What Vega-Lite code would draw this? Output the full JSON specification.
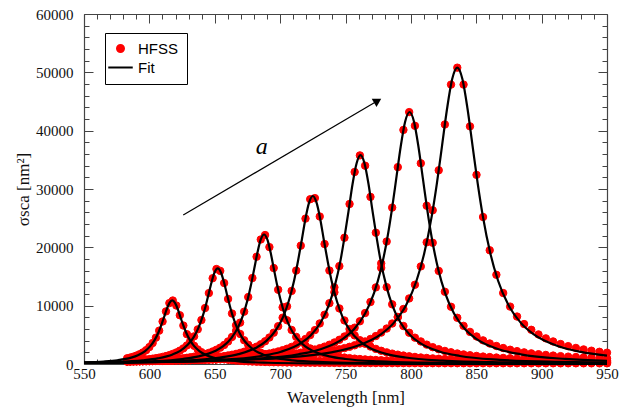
{
"$schema": "https://vega.github.io/schema/vega-lite/v6.json",
"width": 523, "height": 350,
"autosize": {"type": "none"},
"padding": {"left": 84, "top": 14, "right": 26, "bottom": 43},
"background": "white",
"config": {
  "view": {"stroke": null},
  "axis": {"grid": false, "domainColor": "#444", "domainWidth": 1.2, "tickColor": "#444", "tickWidth": 1, "labelFont": "Liberation Serif", "labelFontSize": 15, "labelColor": "#111", "titleFont": "Liberation Serif", "titleFontSize": 17, "titleFontWeight": "normal", "titleColor": "#111", "labelOverlap": false, "labelBound": false, "labelFlush": false},
  "legend": {"orient": "none", "legendX": 21, "legendY": 19, "strokeColor": "#000", "fillColor": "#fff", "padding": 8, "labelFont": "Liberation Sans", "labelFontSize": 15, "labelColor": "#000", "symbolSize": 49, "symbolStrokeWidth": 2, "symbolOpacity": 1, "labelOffset": 10, "rowPadding": 3}
},
"datasets": {
"fit": [
{"c":1,"x":550,"y":258},{"c":1,"x":565,"y":419},{"c":1,"x":575.5,"y":641},{"c":1,"x":586,"y":1090},{"c":1,"x":591.25,"y":1503},{"c":1,"x":596.5,"y":2180},{"c":1,"x":600.7,"y":3062},{"c":1,"x":603.85,"y":4052},{"c":1,"x":607,"y":5450},{"c":1,"x":609.1,"y":6647},{"c":1,"x":611.2,"y":8015},{"c":1,"x":613.3,"y":9397},{"c":1,"x":615.4,"y":10480},{"c":1,"x":617.5,"y":10900},{"c":1,"x":619.6,"y":10480},{"c":1,"x":621.7,"y":9397},{"c":1,"x":623.8,"y":8015},{"c":1,"x":625.9,"y":6647},{"c":1,"x":628,"y":5450},{"c":1,"x":631.15,"y":4052},{"c":1,"x":634.3,"y":3062},{"c":1,"x":638.5,"y":2180},{"c":1,"x":643.75,"y":1503},{"c":1,"x":649,"y":1090},{"c":1,"x":659.5,"y":641},{"c":1,"x":670,"y":419},{"c":1,"x":691,"y":218},{"c":1,"x":722.5,"y":108},{"c":1,"x":800,"y":36},{"c":1,"x":950,"y":11},
{"c":2,"x":550,"y":205},{"c":2,"x":571.8,"y":328},{"c":2,"x":594.8,"y":631},{"c":2,"x":606.3,"y":964},{"c":2,"x":617.8,"y":1640},{"c":2,"x":623.55,"y":2262},{"c":2,"x":629.3,"y":3280},{"c":2,"x":633.9,"y":4607},{"c":2,"x":637.35,"y":6096},{"c":2,"x":640.8,"y":8200},{"c":2,"x":643.1,"y":10000},{"c":2,"x":645.4,"y":12059},{"c":2,"x":647.7,"y":14138},{"c":2,"x":650,"y":15769},{"c":2,"x":652.3,"y":16400},{"c":2,"x":654.6,"y":15769},{"c":2,"x":656.9,"y":14138},{"c":2,"x":659.2,"y":12059},{"c":2,"x":661.5,"y":10000},{"c":2,"x":663.8,"y":8200},{"c":2,"x":667.25,"y":6096},{"c":2,"x":670.7,"y":4607},{"c":2,"x":675.3,"y":3280},{"c":2,"x":681.05,"y":2262},{"c":2,"x":686.8,"y":1640},{"c":2,"x":698.3,"y":964},{"c":2,"x":709.8,"y":631},{"c":2,"x":732.8,"y":328},{"c":2,"x":767.3,"y":162},{"c":2,"x":813.3,"y":84},{"c":2,"x":950,"y":24},
{"c":3,"x":550,"y":181},{"c":3,"x":562.7,"y":220},{"c":3,"x":600.2,"y":444},{"c":3,"x":625.2,"y":855},{"c":3,"x":637.7,"y":1305},{"c":3,"x":650.2,"y":2220},{"c":3,"x":656.45,"y":3061},{"c":3,"x":662.7,"y":4440},{"c":3,"x":667.7,"y":6236},{"c":3,"x":671.45,"y":8252},{"c":3,"x":675.2,"y":11100},{"c":3,"x":677.7,"y":13537},{"c":3,"x":680.2,"y":16324},{"c":3,"x":682.7,"y":19138},{"c":3,"x":685.2,"y":21346},{"c":3,"x":687.7,"y":22200},{"c":3,"x":690.2,"y":21346},{"c":3,"x":692.7,"y":19138},{"c":3,"x":695.2,"y":16324},{"c":3,"x":697.7,"y":13537},{"c":3,"x":700.2,"y":11100},{"c":3,"x":703.95,"y":8252},{"c":3,"x":707.7,"y":6236},{"c":3,"x":712.7,"y":4440},{"c":3,"x":718.95,"y":3061},{"c":3,"x":725.2,"y":2220},{"c":3,"x":737.7,"y":1305},{"c":3,"x":750.2,"y":855},{"c":3,"x":775.2,"y":444},{"c":3,"x":812.7,"y":220},{"c":3,"x":862.7,"y":113},{"c":3,"x":950,"y":50},
{"c":4,"x":550,"y":188},{"c":4,"x":583,"y":285},{"c":4,"x":625.6,"y":576},{"c":4,"x":654,"y":1109},{"c":4,"x":668.2,"y":1694},{"c":4,"x":682.4,"y":2880},{"c":4,"x":689.5,"y":3972},{"c":4,"x":696.6,"y":5760},{"c":4,"x":702.3,"y":8090},{"c":4,"x":706.5,"y":10705},{"c":4,"x":710.8,"y":14400},{"c":4,"x":713.6,"y":17562},{"c":4,"x":716.5,"y":21177},{"c":4,"x":719.3,"y":24828},{"c":4,"x":722.2,"y":27692},{"c":4,"x":725,"y":28800},{"c":4,"x":727.8,"y":27692},{"c":4,"x":730.7,"y":24828},{"c":4,"x":733.5,"y":21177},{"c":4,"x":736.4,"y":17562},{"c":4,"x":739.2,"y":14400},{"c":4,"x":743.5,"y":10705},{"c":4,"x":747.7,"y":8090},{"c":4,"x":753.4,"y":5760},{"c":4,"x":760.5,"y":3972},{"c":4,"x":767.6,"y":2880},{"c":4,"x":781.8,"y":1694},{"c":4,"x":796,"y":1109},{"c":4,"x":824.4,"y":576},{"c":4,"x":867,"y":285},{"c":4,"x":950,"y":114},
{"c":5,"x":550,"y":184},{"c":5,"x":609.5,"y":354},{"c":5,"x":655.1,"y":716},{"c":5,"x":685.5,"y":1378},{"c":5,"x":700.7,"y":2105},{"c":5,"x":715.9,"y":3580},{"c":5,"x":723.5,"y":4937},{"c":5,"x":731.1,"y":7160},{"c":5,"x":737.2,"y":10056},{"c":5,"x":741.7,"y":13307},{"c":5,"x":746.3,"y":17900},{"c":5,"x":749.3,"y":21831},{"c":5,"x":752.4,"y":26324},{"c":5,"x":755.4,"y":30862},{"c":5,"x":758.5,"y":34423},{"c":5,"x":761.5,"y":35800},{"c":5,"x":764.5,"y":34423},{"c":5,"x":767.6,"y":30862},{"c":5,"x":770.6,"y":26324},{"c":5,"x":773.7,"y":21831},{"c":5,"x":776.7,"y":17900},{"c":5,"x":781.3,"y":13307},{"c":5,"x":785.8,"y":10056},{"c":5,"x":791.9,"y":7160},{"c":5,"x":799.5,"y":4937},{"c":5,"x":807.1,"y":3580},{"c":5,"x":822.3,"y":2105},{"c":5,"x":837.5,"y":1378},{"c":5,"x":867.9,"y":716},{"c":5,"x":913.5,"y":354},{"c":5,"x":950,"y":231},
{"c":6,"x":550,"y":200},{"c":6,"x":629,"y":428},{"c":6,"x":680,"y":864},{"c":6,"x":714,"y":1662},{"c":6,"x":731,"y":2541},{"c":6,"x":748,"y":4320},{"c":6,"x":756.5,"y":5959},{"c":6,"x":765,"y":8640},{"c":6,"x":771.8,"y":12135},{"c":6,"x":776.9,"y":16059},{"c":6,"x":782,"y":21600},{"c":6,"x":785.4,"y":26341},{"c":6,"x":788.8,"y":31765},{"c":6,"x":792.2,"y":37241},{"c":6,"x":795.6,"y":41538},{"c":6,"x":799,"y":43200},{"c":6,"x":802.4,"y":41538},{"c":6,"x":805.8,"y":37241},{"c":6,"x":809.2,"y":31765},{"c":6,"x":812.6,"y":26341},{"c":6,"x":816,"y":21600},{"c":6,"x":821.1,"y":16059},{"c":6,"x":826.2,"y":12135},{"c":6,"x":833,"y":8640},{"c":6,"x":841.5,"y":5959},{"c":6,"x":850,"y":4320},{"c":6,"x":867,"y":2541},{"c":6,"x":884,"y":1662},{"c":6,"x":918,"y":864},{"c":6,"x":950,"y":541},
{"c":7,"x":550,"y":236},{"c":7,"x":600,"y":346},{"c":7,"x":640.5,"y":503},{"c":7,"x":699,"y":1016},{"c":7,"x":738,"y":1956},{"c":7,"x":757.5,"y":2988},{"c":7,"x":777,"y":5080},{"c":7,"x":786.75,"y":7005},{"c":7,"x":796.5,"y":10160},{"c":7,"x":804.3,"y":14270},{"c":7,"x":810.15,"y":18882},{"c":7,"x":816,"y":25400},{"c":7,"x":819.9,"y":30978},{"c":7,"x":823.8,"y":37353},{"c":7,"x":827.7,"y":43795},{"c":7,"x":831.6,"y":48843},{"c":7,"x":835.5,"y":50800},{"c":7,"x":839.4,"y":48843},{"c":7,"x":843.3,"y":43795},{"c":7,"x":847.2,"y":37353},{"c":7,"x":851.1,"y":30978},{"c":7,"x":855,"y":25400},{"c":7,"x":860.85,"y":18882},{"c":7,"x":866.7,"y":14270},{"c":7,"x":874.5,"y":10160},{"c":7,"x":884.25,"y":7005},{"c":7,"x":894,"y":5080},{"c":7,"x":913.5,"y":2988},{"c":7,"x":930,"y":2075},{"c":7,"x":950,"y":1432}
],
"hfss": [
{"x":583,"y":979},{"x":585.4,"y":1108},{"x":587.8,"y":1259},{"x":590.2,"y":1446},{"x":592.6,"y":1680},{"x":595,"y":1977},{"x":597.5,"y":2377},{"x":600,"y":2902},{"x":602.5,"y":3597},{"x":605,"y":4518},
{"x":607.5,"y":5721},{"x":610.1,"y":7286},{"x":612.7,"y":9016},{"x":615.3,"y":10441},{"x":617.9,"y":10884},{"x":620.6,"y":10027},{"x":623.3,"y":8355},{"x":626,"y":6593},{"x":628.7,"y":5113},{"x":631.4,"y":3981},
{"x":634.2,"y":3119},{"x":637,"y":2492},{"x":639.8,"y":2033},{"x":642.6,"y":1692},{"x":645.5,"y":1430},{"x":648.4,"y":1233},{"x":651.3,"y":1068},{"x":654.2,"y":934},{"x":657.2,"y":822},{"x":660.2,"y":730},
{"x":663.2,"y":656},{"x":666.3,"y":591},{"x":669.4,"y":538},{"x":672.5,"y":492},{"x":675.6,"y":454},{"x":678.8,"y":420},{"x":682,"y":390},{"x":685.2,"y":365},{"x":688.5,"y":342},{"x":691.8,"y":322},
{"x":695.1,"y":305},{"x":698.5,"y":289},{"x":701.9,"y":275},{"x":705.3,"y":263},{"x":708.8,"y":251},{"x":712.3,"y":241},{"x":715.8,"y":232},{"x":719.4,"y":224},{"x":723,"y":216},{"x":726.6,"y":209},
{"x":730.3,"y":203},{"x":734,"y":197},{"x":737.7,"y":192},{"x":741.5,"y":187},{"x":745.3,"y":182},{"x":749.2,"y":178},{"x":753.1,"y":174},{"x":757,"y":171},{"x":761,"y":167},{"x":765,"y":164},
{"x":769.1,"y":161},{"x":773.2,"y":159},{"x":777.3,"y":156},{"x":781.5,"y":154},{"x":785.7,"y":151},{"x":790,"y":149},{"x":794.3,"y":147},{"x":798.7,"y":146},{"x":803.1,"y":144},{"x":807.6,"y":142},
{"x":812.1,"y":141},{"x":816.7,"y":139},{"x":821.3,"y":138},{"x":826,"y":137},{"x":830.7,"y":135},{"x":835.5,"y":134},{"x":840.3,"y":133},{"x":845.2,"y":132},{"x":850.2,"y":131},{"x":855.2,"y":130},
{"x":860.3,"y":129},{"x":865.4,"y":129},{"x":870.6,"y":128},{"x":875.9,"y":127},{"x":881.2,"y":126},{"x":886.6,"y":126},{"x":892.1,"y":125},{"x":897.6,"y":124},{"x":903.2,"y":124},{"x":908.8,"y":123},
{"x":914.5,"y":123},{"x":920.3,"y":122},{"x":926.2,"y":122},{"x":932.1,"y":121},{"x":938.1,"y":121},{"x":944.2,"y":120},{"x":950,"y":120},
{"x":583,"y":522},{"x":585.4,"y":553},{"x":587.8,"y":587},{"x":590.2,"y":626},{"x":592.6,"y":669},{"x":595,"y":717},{"x":597.5,"y":774},{"x":600,"y":839},{"x":602.5,"y":912},{"x":605,"y":998},
{"x":607.5,"y":1096},{"x":610.1,"y":1216},{"x":612.7,"y":1358},{"x":615.3,"y":1527},{"x":617.9,"y":1731},{"x":620.6,"y":1977},{"x":623.3,"y":2287},{"x":626,"y":2680},{"x":628.7,"y":3185},{"x":631.4,"y":3842},
{"x":634.2,"y":4739},{"x":637,"y":5937},{"x":639.8,"y":7529},{"x":642.6,"y":9590},{"x":645.5,"y":12154},{"x":648.4,"y":14706},{"x":651.3,"y":16277},{"x":654.2,"y":15960},{"x":657.2,"y":13880},{"x":660.2,"y":11149},
{"x":663.2,"y":8654},{"x":666.3,"y":6634},{"x":669.4,"y":5147},{"x":672.5,"y":4070},{"x":675.6,"y":3288},{"x":678.8,"y":2696},{"x":682,"y":2260},{"x":685.2,"y":1935},{"x":688.5,"y":1667},{"x":691.8,"y":1445},
{"x":695.1,"y":1268},{"x":698.5,"y":1121},{"x":701.9,"y":1001},{"x":705.3,"y":901},{"x":708.8,"y":816},{"x":712.3,"y":745},{"x":715.8,"y":685},{"x":719.4,"y":632},{"x":723,"y":587},{"x":726.6,"y":548},
{"x":730.3,"y":513},{"x":734,"y":483},{"x":737.7,"y":456},{"x":741.5,"y":432},{"x":745.3,"y":411},{"x":749.2,"y":392},{"x":753.1,"y":375},{"x":757,"y":360},{"x":761,"y":346},{"x":765,"y":333},
{"x":769.1,"y":321},{"x":773.2,"y":311},{"x":777.3,"y":302},{"x":781.5,"y":293},{"x":785.7,"y":285},{"x":790,"y":278},{"x":794.3,"y":271},{"x":798.7,"y":265},{"x":803.1,"y":259},{"x":807.6,"y":254},
{"x":812.1,"y":249},{"x":816.7,"y":244},{"x":821.3,"y":240},{"x":826,"y":236},{"x":830.7,"y":232},{"x":835.5,"y":229},{"x":840.3,"y":225},{"x":845.2,"y":222},{"x":850.2,"y":219},{"x":855.2,"y":217},
{"x":860.3,"y":214},{"x":865.4,"y":212},{"x":870.6,"y":209},{"x":875.9,"y":207},{"x":881.2,"y":205},{"x":886.6,"y":203},{"x":892.1,"y":202},{"x":897.6,"y":200},{"x":903.2,"y":198},{"x":908.8,"y":197},
{"x":914.5,"y":196},{"x":920.3,"y":194},{"x":926.2,"y":193},{"x":932.1,"y":192},{"x":938.1,"y":191},{"x":944.2,"y":189},{"x":950,"y":188},
{"x":583,"y":423},{"x":585.4,"y":438},{"x":587.8,"y":453},{"x":590.2,"y":470},{"x":592.6,"y":488},{"x":595,"y":507},{"x":597.5,"y":529},{"x":600,"y":553},{"x":602.5,"y":579},{"x":605,"y":607},
{"x":607.5,"y":638},{"x":610.1,"y":672},{"x":612.7,"y":711},{"x":615.3,"y":754},{"x":617.9,"y":801},{"x":620.6,"y":856},{"x":623.3,"y":917},{"x":626,"y":986},{"x":628.7,"y":1065},{"x":631.4,"y":1154},
{"x":634.2,"y":1260},{"x":637,"y":1383},{"x":639.8,"y":1527},{"x":642.6,"y":1695},{"x":645.5,"y":1902},{"x":648.4,"y":2151},{"x":651.3,"y":2447},{"x":654.2,"y":2803},{"x":657.2,"y":3267},{"x":660.2,"y":3863},
{"x":663.2,"y":4632},{"x":666.3,"y":5684},{"x":669.4,"y":7089},{"x":672.5,"y":8974},{"x":675.6,"y":11472},{"x":678.8,"y":14736},{"x":682,"y":18385},{"x":685.2,"y":21346},{"x":688.5,"y":22108},{"x":691.8,"y":20042},
{"x":695.1,"y":16449},{"x":698.5,"y":12729},{"x":701.9,"y":9724},{"x":705.3,"y":7493},{"x":708.8,"y":5837},{"x":712.3,"y":4652},{"x":715.8,"y":3792},{"x":719.4,"y":3146},{"x":723,"y":2671},{"x":726.6,"y":2300},
{"x":730.3,"y":1982},{"x":734,"y":1730},{"x":737.7,"y":1528},{"x":741.5,"y":1359},{"x":745.3,"y":1220},{"x":749.2,"y":1103},{"x":753.1,"y":1004},{"x":757,"y":922},{"x":761,"y":849},{"x":765,"y":788},
{"x":769.1,"y":733},{"x":773.2,"y":687},{"x":777.3,"y":646},{"x":781.5,"y":609},{"x":785.7,"y":577},{"x":790,"y":549},{"x":794.3,"y":523},{"x":798.7,"y":500},{"x":803.1,"y":480},{"x":807.6,"y":462},
{"x":812.1,"y":445},{"x":816.7,"y":429},{"x":821.3,"y":415},{"x":826,"y":402},{"x":830.7,"y":391},{"x":835.5,"y":380},{"x":840.3,"y":370},{"x":845.2,"y":361},{"x":850.2,"y":353},{"x":855.2,"y":345},
{"x":860.3,"y":338},{"x":865.4,"y":331},{"x":870.6,"y":325},{"x":875.9,"y":320},{"x":881.2,"y":314},{"x":886.6,"y":309},{"x":892.1,"y":305},{"x":897.6,"y":301},{"x":903.2,"y":297},{"x":908.8,"y":293},
{"x":914.5,"y":289},{"x":920.3,"y":286},{"x":926.2,"y":283},{"x":932.1,"y":280},{"x":938.1,"y":277},{"x":944.2,"y":275},{"x":950,"y":272},
{"x":583,"y":429},{"x":585.4,"y":439},{"x":587.8,"y":449},{"x":590.2,"y":460},{"x":592.6,"y":472},{"x":595,"y":484},{"x":597.5,"y":497},{"x":600,"y":511},{"x":602.5,"y":526},{"x":605,"y":542},
{"x":607.5,"y":559},{"x":610.1,"y":577},{"x":612.7,"y":597},{"x":615.3,"y":619},{"x":617.9,"y":642},{"x":620.6,"y":667},{"x":623.3,"y":695},{"x":626,"y":725},{"x":628.7,"y":757},{"x":631.4,"y":792},
{"x":634.2,"y":831},{"x":637,"y":875},{"x":639.8,"y":922},{"x":642.6,"y":975},{"x":645.5,"y":1034},{"x":648.4,"y":1101},{"x":651.3,"y":1175},{"x":654.2,"y":1258},{"x":657.2,"y":1354},{"x":660.2,"y":1464},
{"x":663.2,"y":1588},{"x":666.3,"y":1736},{"x":669.4,"y":1908},{"x":672.5,"y":2107},{"x":675.6,"y":2342},{"x":678.8,"y":2630},{"x":682,"y":2975},{"x":685.2,"y":3378},{"x":688.5,"y":3892},{"x":691.8,"y":4540},
{"x":695.1,"y":5370},{"x":698.5,"y":6480},{"x":701.9,"y":7941},{"x":705.3,"y":9879},{"x":708.8,"y":12534},{"x":712.3,"y":16015},{"x":715.8,"y":20291},{"x":719.4,"y":24926},{"x":723,"y":28245},{"x":726.6,"y":28439},
{"x":730.3,"y":25286},{"x":734,"y":20562},{"x":737.7,"y":16028},{"x":741.5,"y":12297},{"x":745.3,"y":9528},{"x":749.2,"y":7469},{"x":753.1,"y":5984},{"x":757,"y":4900},{"x":761,"y":4084},{"x":765,"y":3477},
{"x":769.1,"y":2993},{"x":773.2,"y":2588},{"x":777.3,"y":2265},{"x":781.5,"y":1999},{"x":785.7,"y":1782},{"x":790,"y":1600},{"x":794.3,"y":1449},{"x":798.7,"y":1319},{"x":803.1,"y":1210},{"x":807.6,"y":1115},
{"x":812.1,"y":1034},{"x":816.7,"y":962},{"x":821.3,"y":901},{"x":826,"y":846},{"x":830.7,"y":799},{"x":835.5,"y":756},{"x":840.3,"y":718},{"x":845.2,"y":684},{"x":850.2,"y":654},{"x":855.2,"y":627},
{"x":860.3,"y":602},{"x":865.4,"y":580},{"x":870.6,"y":559},{"x":875.9,"y":541},{"x":881.2,"y":524},{"x":886.6,"y":509},{"x":892.1,"y":494},{"x":897.6,"y":482},{"x":903.2,"y":470},{"x":908.8,"y":459},
{"x":914.5,"y":449},{"x":920.3,"y":439},{"x":926.2,"y":431},{"x":932.1,"y":423},{"x":938.1,"y":415},{"x":944.2,"y":408},{"x":950,"y":402},
{"x":583,"y":437},{"x":585.4,"y":444},{"x":587.8,"y":451},{"x":590.2,"y":459},{"x":592.6,"y":467},{"x":595,"y":475},{"x":597.5,"y":484},{"x":600,"y":493},{"x":602.5,"y":503},{"x":605,"y":514},
{"x":607.5,"y":524},{"x":610.1,"y":536},{"x":612.7,"y":549},{"x":615.3,"y":562},{"x":617.9,"y":576},{"x":620.6,"y":591},{"x":623.3,"y":607},{"x":626,"y":624},{"x":628.7,"y":642},{"x":631.4,"y":661},
{"x":634.2,"y":682},{"x":637,"y":705},{"x":639.8,"y":729},{"x":642.6,"y":755},{"x":645.5,"y":783},{"x":648.4,"y":814},{"x":651.3,"y":847},{"x":654.2,"y":883},{"x":657.2,"y":924},{"x":660.2,"y":967},
{"x":663.2,"y":1015},{"x":666.3,"y":1069},{"x":669.4,"y":1128},{"x":672.5,"y":1194},{"x":675.6,"y":1266},{"x":678.8,"y":1349},{"x":682,"y":1442},{"x":685.2,"y":1545},{"x":688.5,"y":1667},{"x":691.8,"y":1804},
{"x":695.1,"y":1962},{"x":698.5,"y":2148},{"x":701.9,"y":2365},{"x":705.3,"y":2620},{"x":708.8,"y":2929},{"x":712.3,"y":3298},{"x":715.8,"y":3746},{"x":719.4,"y":4282},{"x":723,"y":4957},{"x":726.6,"y":5813},
{"x":730.3,"y":6952},{"x":734,"y":8443},{"x":737.7,"y":10421},{"x":741.5,"y":13142},{"x":745.3,"y":16783},{"x":749.2,"y":21649},{"x":753.1,"y":27431},{"x":757,"y":32916},{"x":761,"y":35760},{"x":765,"y":33999},
{"x":769.1,"y":28650},{"x":773.2,"y":22506},{"x":777.3,"y":17250},{"x":781.5,"y":13177},{"x":785.7,"y":10229},{"x":790,"y":8068},{"x":794.3,"y":6514},{"x":798.7,"y":5360},{"x":803.1,"y":4515},{"x":807.6,"y":3869},
{"x":812.1,"y":3322},{"x":816.7,"y":2881},{"x":821.3,"y":2531},{"x":826,"y":2242},{"x":830.7,"y":2006},{"x":835.5,"y":1807},{"x":840.3,"y":1642},{"x":845.2,"y":1501},{"x":850.2,"y":1379},{"x":855.2,"y":1276},
{"x":860.3,"y":1186},{"x":865.4,"y":1108},{"x":870.6,"y":1040},{"x":875.9,"y":979},{"x":881.2,"y":926},{"x":886.6,"y":879},{"x":892.1,"y":836},{"x":897.6,"y":799},{"x":903.2,"y":765},{"x":908.8,"y":735},
{"x":914.5,"y":708},{"x":920.3,"y":683},{"x":926.2,"y":660},{"x":932.1,"y":640},{"x":938.1,"y":621},{"x":944.2,"y":604},{"x":950,"y":589},
{"x":583,"y":482},{"x":585.4,"y":488},{"x":587.8,"y":494},{"x":590.2,"y":500},{"x":592.6,"y":507},{"x":595,"y":514},{"x":597.5,"y":521},{"x":600,"y":529},{"x":602.5,"y":537},{"x":605,"y":545},
{"x":607.5,"y":554},{"x":610.1,"y":563},{"x":612.7,"y":573},{"x":615.3,"y":583},{"x":617.9,"y":593},{"x":620.6,"y":605},{"x":623.3,"y":617},{"x":626,"y":629},{"x":628.7,"y":642},{"x":631.4,"y":656},
{"x":634.2,"y":671},{"x":637,"y":687},{"x":639.8,"y":703},{"x":642.6,"y":720},{"x":645.5,"y":739},{"x":648.4,"y":760},{"x":651.3,"y":781},{"x":654.2,"y":803},{"x":657.2,"y":828},{"x":660.2,"y":854},
{"x":663.2,"y":883},{"x":666.3,"y":914},{"x":669.4,"y":947},{"x":672.5,"y":982},{"x":675.6,"y":1021},{"x":678.8,"y":1063},{"x":682,"y":1109},{"x":685.2,"y":1159},{"x":688.5,"y":1215},{"x":691.8,"y":1276},
{"x":695.1,"y":1342},{"x":698.5,"y":1418},{"x":701.9,"y":1501},{"x":705.3,"y":1593},{"x":708.8,"y":1698},{"x":712.3,"y":1815},{"x":715.8,"y":1947},{"x":719.4,"y":2100},{"x":723,"y":2274},{"x":726.6,"y":2473},
{"x":730.3,"y":2708},{"x":734,"y":2982},{"x":737.7,"y":3301},{"x":741.5,"y":3689},{"x":745.3,"y":4151},{"x":749.2,"y":4715},{"x":753.1,"y":5386},{"x":757,"y":6227},{"x":761,"y":7324},{"x":765,"y":8736},
{"x":769.1,"y":10627},{"x":773.2,"y":13133},{"x":777.3,"y":16468},{"x":781.5,"y":20999},{"x":785.7,"y":26812},{"x":790,"y":33750},{"x":794.3,"y":40133},{"x":798.7,"y":43185},{"x":803.1,"y":40830},{"x":807.6,"y":34405},
{"x":812.1,"y":27134},{"x":816.7,"y":20781},{"x":821.3,"y":15961},{"x":826,"y":12385},{"x":830.7,"y":9816},{"x":835.5,"y":7923},{"x":840.3,"y":6542},{"x":845.2,"y":5507},{"x":850.2,"y":4722},{"x":855.2,"y":4054},
{"x":860.3,"y":3517},{"x":865.4,"y":3089},{"x":870.6,"y":2737},{"x":875.9,"y":2445},{"x":881.2,"y":2204},{"x":886.6,"y":2000},{"x":892.1,"y":1826},{"x":897.6,"y":1679},{"x":903.2,"y":1552},{"x":908.8,"y":1443},
{"x":914.5,"y":1348},{"x":920.3,"y":1264},{"x":926.2,"y":1190},{"x":932.1,"y":1125},{"x":938.1,"y":1068},{"x":944.2,"y":1016},{"x":950,"y":973},
{"x":583,"y":555},{"x":585.4,"y":561},{"x":587.8,"y":567},{"x":590.2,"y":573},{"x":592.6,"y":579},{"x":595,"y":586},{"x":597.5,"y":593},{"x":600,"y":600},{"x":602.5,"y":607},{"x":605,"y":615},
{"x":607.5,"y":623},{"x":610.1,"y":631},{"x":612.7,"y":640},{"x":615.3,"y":649},{"x":617.9,"y":659},{"x":620.6,"y":669},{"x":623.3,"y":679},{"x":626,"y":690},{"x":628.7,"y":702},{"x":631.4,"y":714},
{"x":634.2,"y":726},{"x":637,"y":740},{"x":639.8,"y":753},{"x":642.6,"y":768},{"x":645.5,"y":784},{"x":648.4,"y":800},{"x":651.3,"y":817},{"x":654.2,"y":835},{"x":657.2,"y":854},{"x":660.2,"y":875},
{"x":663.2,"y":896},{"x":666.3,"y":920},{"x":669.4,"y":945},{"x":672.5,"y":971},{"x":675.6,"y":998},{"x":678.8,"y":1029},{"x":682,"y":1061},{"x":685.2,"y":1095},{"x":688.5,"y":1132},{"x":691.8,"y":1173},
{"x":695.1,"y":1215},{"x":698.5,"y":1263},{"x":701.9,"y":1314},{"x":705.3,"y":1369},{"x":708.8,"y":1429},{"x":712.3,"y":1496},{"x":715.8,"y":1567},{"x":719.4,"y":1648},{"x":723,"y":1736},{"x":726.6,"y":1832},
{"x":730.3,"y":1941},{"x":734,"y":2062},{"x":737.7,"y":2196},{"x":741.5,"y":2350},{"x":745.3,"y":2522},{"x":749.2,"y":2722},{"x":753.1,"y":2948},{"x":757,"y":3207},{"x":761,"y":3511},{"x":765,"y":3865},
{"x":769.1,"y":4288},{"x":773.2,"y":4787},{"x":777.3,"y":5379},{"x":781.5,"y":6077},{"x":785.7,"y":6938},{"x":790,"y":8038},{"x":794.3,"y":9426},{"x":798.7,"y":11241},{"x":803.1,"y":13586},{"x":807.6,"y":16729},
{"x":812.1,"y":20861},{"x":816.7,"y":26354},{"x":821.3,"y":33211},{"x":826,"y":41063},{"x":830.7,"y":47899},{"x":835.5,"y":50800},{"x":840.3,"y":47900},{"x":845.2,"y":40741},{"x":850.2,"y":32426},{"x":855.2,"y":25200},
{"x":860.3,"y":19499},{"x":865.4,"y":15292},{"x":870.6,"y":12164},{"x":875.9,"y":9841},{"x":881.2,"y":8135},{"x":886.6,"y":6845},{"x":892.1,"y":5865},{"x":897.6,"y":5068},{"x":903.2,"y":4400},{"x":908.8,"y":3866},
{"x":914.5,"y":3425},{"x":920.3,"y":3059},{"x":926.2,"y":2753},{"x":932.1,"y":2497},{"x":938.1,"y":2279},{"x":944.2,"y":2092},{"x":950,"y":1940}
]
},
"layer": [
{
  "data": {"name": "hfss"},
  "mark": {"type": "point", "size": 55, "strokeWidth": 1, "opacity": 1},
  "encoding": {
    "x": {"field": "x", "type": "quantitative", "scale": {"domain": [550, 950], "nice": false, "zero": false},
      "axis": {"orient": "top", "values": [550,560,570,580,590,600,610,620,630,640,650,660,670,680,690,700,710,720,730,740,750,760,770,780,790,800,810,820,830,840,850,860,870,880,890,900,910,920,930,940,950], "labels": false, "title": null,
        "tickSize": {"condition": {"test": "datum.value % 50 === 0", "value": -9}, "value": -5}}},
    "y": {"field": "y", "type": "quantitative", "scale": {"domain": [0, 60000], "nice": false},
      "axis": {"orient": "right", "values": [0,2000,4000,6000,8000,10000,12000,14000,16000,18000,20000,22000,24000,26000,28000,30000,32000,34000,36000,38000,40000,42000,44000,46000,48000,50000,52000,54000,56000,58000,60000], "labels": false, "title": null,
        "tickSize": {"condition": {"test": "datum.value % 10000 === 0", "value": -9}, "value": -5}}},
    "fill": {"datum": "HFSS", "type": "nominal", "scale": {"domain": ["HFSS", "Fit"], "range": ["#ff0000", "transparent"]}, "legend": {"title": null}},
    "stroke": {"datum": "HFSS", "type": "nominal", "scale": {"domain": ["HFSS", "Fit"], "range": ["#ff0000", "#000000"]}, "legend": {"title": null}},
    "shape": {"datum": "HFSS", "type": "nominal", "scale": {"domain": ["HFSS", "Fit"], "range": ["circle", "M-3.5,0H3.5"]}, "legend": {"title": null}}
  }
},
{
  "data": {"name": "fit"},
  "mark": {"type": "line", "interpolate": "monotone", "strokeWidth": 2.2},
  "encoding": {
    "x": {"field": "x", "type": "quantitative", "scale": {"domain": [550, 950], "nice": false, "zero": false},
      "axis": {"orient": "bottom", "values": [550,560,570,580,590,600,610,620,630,640,650,660,670,680,690,700,710,720,730,740,750,760,770,780,790,800,810,820,830,840,850,860,870,880,890,900,910,920,930,940,950], "format": "d",
        "labelExpr": "datum.value % 50 === 0 ? datum.label : ''", "labelPadding": 11,
        "tickSize": {"condition": {"test": "datum.value % 50 === 0", "value": -9}, "value": -5},
        "title": "Wavelength [nm]", "titlePadding": 4}},
    "y": {"field": "y", "type": "quantitative", "scale": {"domain": [0, 60000], "nice": false},
      "axis": {"orient": "left", "values": [0,2000,4000,6000,8000,10000,12000,14000,16000,18000,20000,22000,24000,26000,28000,30000,32000,34000,36000,38000,40000,42000,44000,46000,48000,50000,52000,54000,56000,58000,60000], "format": "d",
        "labelExpr": "datum.value % 10000 === 0 ? datum.label : ''", "labelPadding": 20,
        "tickSize": {"condition": {"test": "datum.value % 10000 === 0", "value": -9}, "value": -5},
        "title": "σsca [nm²]", "titlePadding": 3}},
    "detail": {"field": "c", "type": "nominal"},
    "stroke": {"datum": "Fit", "type": "nominal", "legend": {"title": null}}
  }
},
{
  "data": {"values": [{"xa": 625.9, "ya": 25543, "xb": 774.6, "yb": 45120}]},
  "mark": {"type": "rule", "color": "#000", "strokeWidth": 1.2},
  "encoding": {
    "x": {"field": "xa", "type": "quantitative", "axis": null, "scale": {"domain": [550, 950], "nice": false, "zero": false}},
    "y": {"field": "ya", "type": "quantitative", "axis": null, "scale": {"domain": [0, 60000], "nice": false}},
    "x2": {"field": "xb"},
    "y2": {"field": "yb"}
  }
},
{
  "data": {"values": [{"xh": 774.6, "yh": 45120}]},
  "mark": {"type": "point", "shape": "triangle-right", "angle": 329.6, "size": 90, "filled": true, "color": "#000", "opacity": 1},
  "encoding": {
    "x": {"field": "xh", "type": "quantitative", "axis": null, "scale": {"domain": [550, 950], "nice": false, "zero": false}},
    "y": {"field": "yh", "type": "quantitative", "axis": null, "scale": {"domain": [0, 60000], "nice": false}}
  }
},
{
  "data": {"values": [{"xt": 685.9, "yt": 37250, "t": "a"}]},
  "mark": {"type": "text", "font": "Liberation Serif", "fontStyle": "italic", "fontSize": 24, "color": "#000", "baseline": "middle", "align": "center"},
  "encoding": {
    "x": {"field": "xt", "type": "quantitative", "axis": null, "scale": {"domain": [550, 950], "nice": false, "zero": false}},
    "y": {"field": "yt", "type": "quantitative", "axis": null, "scale": {"domain": [0, 60000], "nice": false}},
    "text": {"field": "t"}
  }
}
],
"resolve": {"axis": {"x": "independent", "y": "independent"}}
}
